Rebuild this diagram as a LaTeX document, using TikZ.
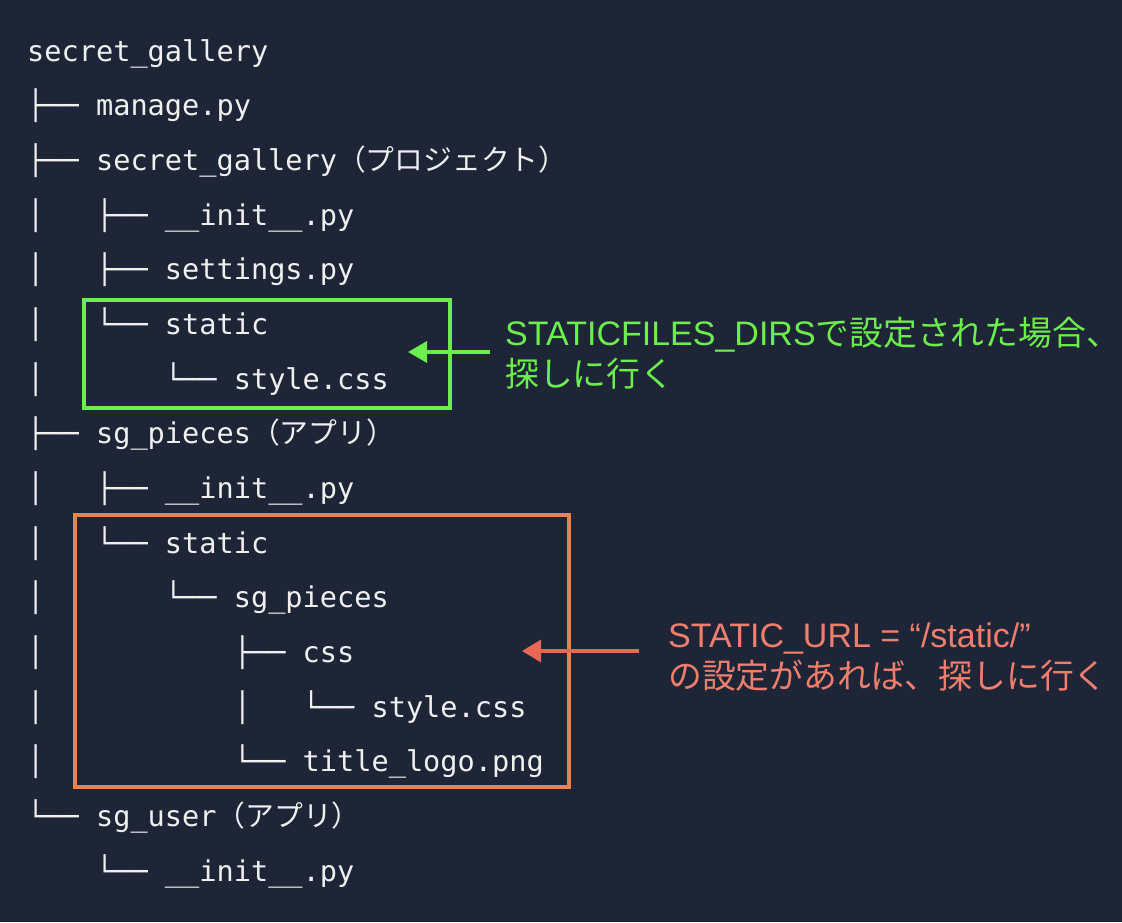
\documentclass[tikz,border=0pt]{standalone}
\usepackage{fontspec}
\usetikzlibrary{arrows.meta}
\newfontfamily\monof{DejaVu Sans Mono}
\newfontfamily\jpf{Noto Sans CJK JP}
\newfontfamily\latf{Liberation Sans}
\definecolor{bg}{RGB}{30,37,55}
\definecolor{fg}{RGB}{240,240,240}
\definecolor{grn}{RGB}{108,238,76}
\definecolor{obox}{RGB}{238,132,76}
\definecolor{oarr}{RGB}{232,104,86}
\definecolor{otxt}{RGB}{240,126,108}
\newcommand\jt[1]{{\jpf\fontsize{28.8}{30}\selectfont #1}}
\newcommand\jb[1]{{\jpf\fontsize{33.8}{40}\selectfont #1}}
\newcommand\tr[4]{\node[treeline] (#1) at ({27+17.22*#3},{61+54.67*#2}) {#4};}
\begin{document}
\begin{tikzpicture}[x=1pt,y=-1pt,
  treeline/.style={anchor=base west, inner sep=0pt, text=fg, font=\monof\fontsize{28.6}{30}\selectfont},
  note/.style={anchor=base west, inner sep=0pt, font=\latf\fontsize{34}{40}\selectfont},
  gframe/.style={draw=grn, line width=3.5pt, inner sep=0pt},
  oframe/.style={draw=obox, line width=3.5pt, inner sep=0pt},
  garrow/.style={draw=grn, line width=3.5pt, -{Triangle[length=19pt,width=21pt]}},
  oarrow/.style={draw=oarr, line width=3.5pt, -{Triangle[length=19pt,width=22pt]}}]
\fill[bg] (0,0) rectangle (1122,922);
\useasboundingbox (0,0) rectangle (1122,922);
% tree
\tr{l0}{0}{0}{secret\_gallery}
\tr{l1}{1}{0}{├── manage.py}
\tr{l2}{2}{0}{├── secret\_gallery\jt{（プロジェクト）}}
\tr{b3}{3}{0}{│}\tr{l3}{3}{4}{├── \_\_init\_\_.py}
\tr{b4}{4}{0}{│}\tr{l4}{4}{4}{├── settings.py}
\tr{b5}{5}{0}{│}\tr{l5}{5}{4}{└── static}
\tr{b6}{6}{0}{│}\tr{l6}{6}{8}{└── style.css}
\tr{l7}{7}{0}{├── sg\_pieces\jt{（アプリ）}}
\tr{b8}{8}{0}{│}\tr{l8}{8}{4}{├── \_\_init\_\_.py}
\tr{b9}{9}{0}{│}\tr{l9}{9}{4}{└── static}
\tr{b10}{10}{0}{│}\tr{l10}{10}{8}{└── sg\_pieces}
\tr{b11}{11}{0}{│}\tr{l11}{11}{12}{├── css}
\tr{b12}{12}{0}{│}\tr{c12}{12}{12}{│}\tr{l12}{12}{16}{└── style.css}
\tr{b13}{13}{0}{│}\tr{l13}{13}{12}{└── title\_logo.png}
\tr{l14}{14}{0}{└── sg\_user\jt{（アプリ）}}
\tr{l15}{15}{4}{└── \_\_init\_\_.py}
% frames
\node[gframe, minimum width=366pt, minimum height=108pt] (gbox) at (267,354) {};
\node[oframe, minimum width=494pt, minimum height=272pt] (obox) at (322,651) {};
% notes
\node[note, text=grn] (g1) at (505,345) {STATICFILES\_DIRS\jb{で設定された場合、}};
\node[note, text=grn] (g2) at (505,386) {\jb{探しに行く}};
\node[note, text=otxt] (o1) at (668,647) {STATIC\_URL = “/static/”};
\node[note, text=otxt] (o2) at (668,688) {\jb{の設定があれば、探しに行く}};
% arrows
\coordinate (gs) at (490,352);
\coordinate (gt) at (408,352);
\coordinate (os) at (639,651);
\coordinate (ot) at (522,651);
\draw[garrow] (gs) -- (gt);
\draw[oarrow] (os) -- (ot);
\end{tikzpicture}
\end{document}
